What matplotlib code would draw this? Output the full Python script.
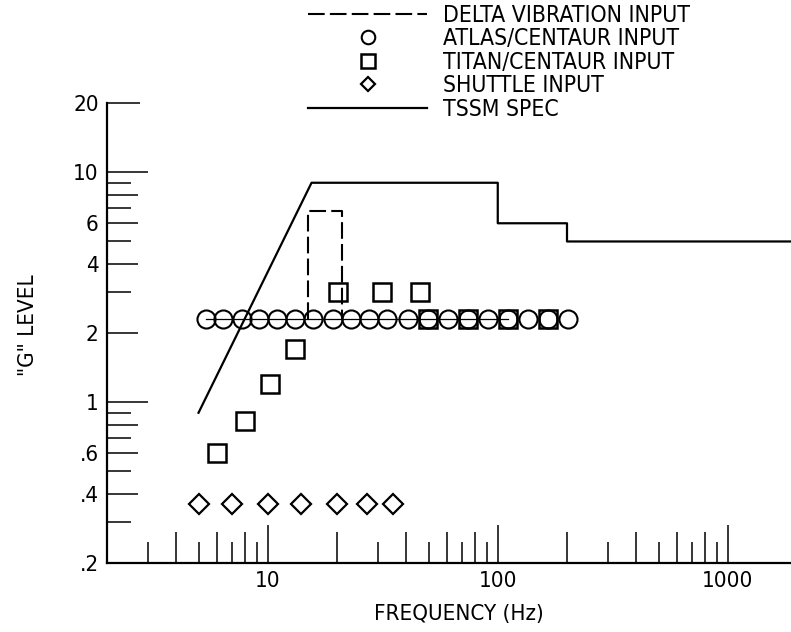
import math

import matplotlib
matplotlib.use("Agg")
import matplotlib.pyplot as plt
from matplotlib.ticker import FixedFormatter, FixedLocator

plt.rcParams["font.family"] = ["DejaVu Sans"]
plt.rcParams["font.stretch"] = "condensed"

# TSSM spec envelope (Hz, g)
tssm_freq = [5, 15.5, 100, 100, 200, 200, 2000]
tssm_g = [0.9, 9, 9, 6, 6, 5, 5]

# Delta vibration input, dashed box
delta_freq = [15, 15, 21, 21]
delta_g = [2.3, 6.8, 6.8, 2.3]

# Atlas/Centaur input
atlas_freq = [5.4, 6.4, 7.7, 9.2, 11, 13.2, 15.8, 19.2, 22.9, 27.5,
              33, 40.6, 49.6, 60.6, 74, 90.6, 111, 135, 165, 202]
atlas_g = [2.3, 2.3, 2.3, 2.3, 2.3, 2.3, 2.3, 2.3, 2.3, 2.3,
           2.3, 2.3, 2.3, 2.3, 2.3, 2.3, 2.3, 2.3, 2.3, 2.3]

# Titan/Centaur input
titan_freq = [6, 8, 10.2, 13.2, 20.3, 31.3, 46, 49.6, 74.6, 111, 165]
titan_g = [0.6, 0.83, 1.2, 1.7, 3.0, 3.0, 3.0, 2.3, 2.3, 2.3, 2.3]

# Shuttle input
shuttle_freq = [5, 7, 10, 14, 20, 27, 35]
shuttle_g = [0.36, 0.36, 0.36, 0.36, 0.36, 0.36, 0.36]

x_ticks = [3, 4, 5, 6, 7, 8, 9, 10, 20, 30, 40, 50, 60, 70, 80, 90, 100,
           200, 300, 400, 500, 600, 700, 800, 900, 1000]
x_labels = {10: "10", 100: "100", 1000: "1000"}
y_ticks = [0.2, 0.3, 0.4, 0.5, 0.6, 0.7, 0.8, 0.9, 1, 2, 3, 4, 5, 6, 7, 8, 9, 10, 20]
y_labels = {0.2: ".2", 0.4: ".4", 0.6: ".6", 1: "1", 2: "2", 4: "4",
            6: "6", 10: "10", 20: "20"}

PX = 0.72  # points per pixel at dpi 100


def mantissa(v):
    return round(v / 10 ** math.floor(math.log10(v) + 1e-9))


fig = plt.figure(figsize=(7.91, 6.32), dpi=100)
ax = fig.add_axes([107 / 791, 69 / 632, 690 / 791, 460 / 632])
ax.set_xscale("log")
ax.set_yscale("log")
ax.set_xlim(2, 2000)
ax.set_ylim(0.2, 20)

for side in ("top", "right"):
    ax.spines[side].set_visible(False)
for side in ("left", "bottom"):
    ax.spines[side].set_linewidth(1.6)

ax.plot(tssm_freq, tssm_g, color="black", lw=1.6)
delta, = ax.plot(delta_freq, delta_g, color="black", lw=1.5, dashes=(8, 2.5))
ax.plot(atlas_freq[:17], atlas_g[:17], color="black", lw=0.9)
atlas, = ax.plot(atlas_freq, atlas_g, ls="none", marker="o", ms=13,
                 mfc="none", mec="black", mew=1.5)
titan, = ax.plot(titan_freq, titan_g, ls="none", marker="s", ms=13,
                 mfc="none", mec="black", mew=1.8)
shuttle, = ax.plot(shuttle_freq, shuttle_g, ls="none", marker="D", ms=10,
                   mfc="none", mec="black", mew=1.6)
tssm = plt.Line2D([], [], color="black", lw=1.6)

ax.xaxis.set_major_locator(FixedLocator(x_ticks))
ax.xaxis.set_major_formatter(FixedFormatter([x_labels.get(v, "") for v in x_ticks]))
ax.xaxis.set_minor_locator(FixedLocator([]))
ax.yaxis.set_major_locator(FixedLocator(y_ticks))
ax.yaxis.set_major_formatter(FixedFormatter([y_labels.get(v, "") for v in y_ticks]))
ax.yaxis.set_minor_locator(FixedLocator([]))

ax.tick_params(axis="x", direction="in", width=1.1, labelsize=16, pad=6)
ax.tick_params(axis="y", direction="in", width=1.1, labelsize=16, pad=6)

for v, tick in zip(x_ticks, ax.xaxis.get_major_ticks()):
    m = mantissa(v)
    length = 38 if m == 1 else (31 if m % 2 == 0 else 21)
    tick.tick1line.set_markersize(length * PX)

for v, tick in zip(y_ticks, ax.yaxis.get_major_ticks()):
    m = mantissa(v)
    if v == 0.2:
        length = 0
    elif v == 20:
        length = 33
    elif m == 1:
        length = 41
    else:
        length = 31 if m % 2 == 0 else 24
    tick.tick1line.set_markersize(length * PX)

ax.set_xlabel("FREQUENCY (Hz)", fontsize=16)
ax.xaxis.set_label_coords(0.51, -0.09)
ax.set_ylabel('"G" LEVEL', fontsize=16)
ax.yaxis.set_label_coords(-0.1, 0.517)

ax.legend([delta, atlas, titan, shuttle, tssm],
          ["DELTA VIBRATION INPUT", "ATLAS/CENTAUR INPUT",
           "TITAN/CENTAUR INPUT", "SHUTTLE INPUT", "TSSM SPEC"],
          loc="upper left", bbox_to_anchor=(308 / 791, 1 - 4 / 632),
          bbox_transform=fig.transFigure, frameon=False, fontsize=16.5,
          handlelength=5.2, handletextpad=0.68, labelspacing=0.02,
          borderpad=0, borderaxespad=0, markerscale=0.75, numpoints=1)

fig.savefig("out.png", dpi=100)
